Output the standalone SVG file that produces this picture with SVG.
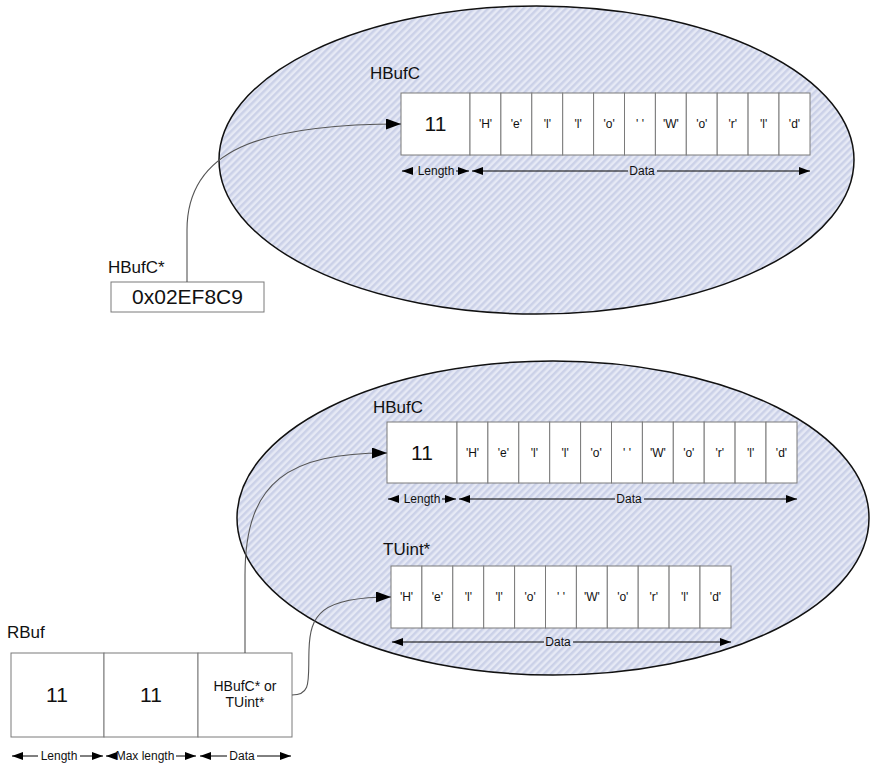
<svg xmlns="http://www.w3.org/2000/svg" width="871" height="766" viewBox="0 0 871 766">
<defs>
<pattern id="hatch" width="5" height="5" patternUnits="userSpaceOnUse" patternTransform="rotate(45)">
<rect width="5" height="5" fill="#e6e9f5"/>
<rect width="2.5" height="5" fill="#cbd1e8"/>
</pattern>
<marker id="ptr" viewBox="0 0 15 11" refX="15" refY="5.5" markerWidth="15" markerHeight="11" orient="auto" markerUnits="userSpaceOnUse">
<path d="M0,0 L15,5.5 L0,11 z" fill="#000"/>
</marker>
<marker id="dim" viewBox="0 0 11 8" refX="11" refY="4" markerWidth="11" markerHeight="8" orient="auto-start-reverse" markerUnits="userSpaceOnUse">
<path d="M0,0 L11,4 L0,8 z" fill="#000"/>
</marker>
</defs>
<style>
text{font-family:"Liberation Sans",Arial,sans-serif;fill:#111}
.ell{fill:url(#hatch);stroke:#111;stroke-width:1.5}
.cell{fill:#fff;stroke:#7a7a7a;stroke-width:1}
.ch{font-size:12px;text-anchor:middle}
.big{font-size:21px;text-anchor:middle}
.lbl{font-size:17px}
.dimt{font-size:12px;text-anchor:middle}
.dl{stroke:#000;stroke-width:1;fill:none}
.conn{stroke:#555;stroke-width:1.1;fill:none;marker-end:url(#ptr)}
</style>
<rect width="871" height="766" fill="#fff"/>

<g id="heap1">
<ellipse class="ell" cx="536.5" cy="160" rx="317.5" ry="154"/>
<text class="lbl" x="370" y="79">HBufC</text>
</g>
<g id="hbufc1">
<rect class="cell" x="401" y="93" width="69" height="62"/>
<text class="big" x="435.5" y="131">11</text>
<rect class="cell" x="470" y="93" width="30.9" height="62"/>
<rect class="cell" x="500.9" y="93" width="30.9" height="62"/>
<rect class="cell" x="531.8" y="93" width="30.9" height="62"/>
<rect class="cell" x="562.7" y="93" width="30.9" height="62"/>
<rect class="cell" x="593.6" y="93" width="30.9" height="62"/>
<rect class="cell" x="624.5" y="93" width="30.9" height="62"/>
<rect class="cell" x="655.4" y="93" width="30.9" height="62"/>
<rect class="cell" x="686.3" y="93" width="30.9" height="62"/>
<rect class="cell" x="717.2" y="93" width="30.9" height="62"/>
<rect class="cell" x="748.1" y="93" width="30.9" height="62"/>
<rect class="cell" x="779" y="93" width="31" height="62"/>
<text class="ch" x="485.5" y="128">'H'</text>
<text class="ch" x="516.4" y="128">'e'</text>
<text class="ch" x="547.3" y="128">'l'</text>
<text class="ch" x="578.2" y="128">'l'</text>
<text class="ch" x="609.1" y="128">'o'</text>
<text class="ch" x="640" y="128">' '</text>
<text class="ch" x="670.9" y="128">'W'</text>
<text class="ch" x="701.8" y="128">'o'</text>
<text class="ch" x="732.7" y="128">'r'</text>
<text class="ch" x="763.6" y="128">'l'</text>
<text class="ch" x="794.5" y="128">'d'</text>
<path class="dl" d="M413,171 L402,171" marker-end="url(#dim)"/>
<text class="dimt" x="436" y="175">Length</text>
<path class="dl" d="M456,171 L469,171" marker-end="url(#dim)"/>
<path class="dl" d="M628,171 L472,171" marker-end="url(#dim)"/>
<text class="dimt" x="642" y="175">Data</text>
<path class="dl" d="M657,171 L810,171" marker-end="url(#dim)"/>
</g>

<g id="ptrbox">
<text class="lbl" x="108" y="273">HBufC*</text>
<rect class="cell" x="111" y="282" width="153" height="30"/>
<text class="big" x="187.5" y="304">0x02EF8C9</text>
</g>

<g id="heap2">
<ellipse class="ell" cx="553" cy="518" rx="316" ry="157"/>
<text class="lbl" x="373" y="413">HBufC</text>
<text class="lbl" x="383" y="555">TUint*</text>
</g>
<g id="hbufc2">
<rect class="cell" x="387" y="422" width="70" height="61"/>
<text class="big" x="422" y="460">11</text>
<rect class="cell" x="457" y="422" width="30.9" height="61"/>
<rect class="cell" x="487.9" y="422" width="30.9" height="61"/>
<rect class="cell" x="518.8" y="422" width="30.9" height="61"/>
<rect class="cell" x="549.7" y="422" width="30.9" height="61"/>
<rect class="cell" x="580.6" y="422" width="30.9" height="61"/>
<rect class="cell" x="611.5" y="422" width="30.9" height="61"/>
<rect class="cell" x="642.4" y="422" width="30.9" height="61"/>
<rect class="cell" x="673.3" y="422" width="30.9" height="61"/>
<rect class="cell" x="704.2" y="422" width="30.9" height="61"/>
<rect class="cell" x="735.1" y="422" width="30.9" height="61"/>
<rect class="cell" x="766" y="422" width="31" height="61"/>
<text class="ch" x="472.5" y="457">'H'</text>
<text class="ch" x="503.4" y="457">'e'</text>
<text class="ch" x="534.3" y="457">'l'</text>
<text class="ch" x="565.2" y="457">'l'</text>
<text class="ch" x="596.1" y="457">'o'</text>
<text class="ch" x="627" y="457">' '</text>
<text class="ch" x="657.9" y="457">'W'</text>
<text class="ch" x="688.8" y="457">'o'</text>
<text class="ch" x="719.7" y="457">'r'</text>
<text class="ch" x="750.6" y="457">'l'</text>
<text class="ch" x="781.5" y="457">'d'</text>
<path class="dl" d="M399,499 L388,499" marker-end="url(#dim)"/>
<text class="dimt" x="422" y="503">Length</text>
<path class="dl" d="M442,499 L456,499" marker-end="url(#dim)"/>
<path class="dl" d="M615,499 L459,499" marker-end="url(#dim)"/>
<text class="dimt" x="629" y="503">Data</text>
<path class="dl" d="M644,499 L797,499" marker-end="url(#dim)"/>
</g>

<g id="tuint">
<rect class="cell" x="391" y="566" width="30.9" height="62"/>
<rect class="cell" x="421.9" y="566" width="30.9" height="62"/>
<rect class="cell" x="452.8" y="566" width="30.9" height="62"/>
<rect class="cell" x="483.7" y="566" width="30.9" height="62"/>
<rect class="cell" x="514.6" y="566" width="30.9" height="62"/>
<rect class="cell" x="545.5" y="566" width="30.9" height="62"/>
<rect class="cell" x="576.4" y="566" width="30.9" height="62"/>
<rect class="cell" x="607.3" y="566" width="30.9" height="62"/>
<rect class="cell" x="638.2" y="566" width="30.9" height="62"/>
<rect class="cell" x="669.1" y="566" width="30.9" height="62"/>
<rect class="cell" x="700" y="566" width="31" height="62"/>
<text class="ch" x="406.5" y="601">'H'</text>
<text class="ch" x="437.4" y="601">'e'</text>
<text class="ch" x="468.3" y="601">'l'</text>
<text class="ch" x="499.2" y="601">'l'</text>
<text class="ch" x="530.1" y="601">'o'</text>
<text class="ch" x="561" y="601">' '</text>
<text class="ch" x="591.9" y="601">'W'</text>
<text class="ch" x="622.8" y="601">'o'</text>
<text class="ch" x="653.7" y="601">'r'</text>
<text class="ch" x="684.6" y="601">'l'</text>
<text class="ch" x="715.5" y="601">'d'</text>
<path class="dl" d="M544,642 L392,642" marker-end="url(#dim)"/>
<text class="dimt" x="558" y="646">Data</text>
<path class="dl" d="M573,642 L731,642" marker-end="url(#dim)"/>
</g>

<g id="rbuf">
<text class="lbl" x="7" y="638">RBuf</text>
<rect class="cell" x="11" y="653" width="93" height="84"/>
<rect class="cell" x="104" y="653" width="94" height="84"/>
<rect class="cell" x="198" y="653" width="94" height="84"/>
<text class="big" x="57" y="702">11</text>
<text class="big" x="151" y="702">11</text>
<text x="245" y="691" style="font-size:14px;text-anchor:middle">HBufC* or</text>
<text x="245" y="707" style="font-size:14px;text-anchor:middle">TUint*</text>
<path class="dl" d="M38,756 L12,756" marker-end="url(#dim)"/>
<text class="dimt" x="59" y="760">Length</text>
<path class="dl" d="M80,756 L103,756" marker-end="url(#dim)"/>
<path class="dl" d="M115,756 L106,756" marker-end="url(#dim)"/>
<text class="dimt" x="145" y="760">Max length</text>
<path class="dl" d="M176,756 L196,756" marker-end="url(#dim)"/>
<path class="dl" d="M227,756 L200,756" marker-end="url(#dim)"/>
<text class="dimt" x="242" y="760">Data</text>
<path class="dl" d="M257,756 L291,756" marker-end="url(#dim)"/>
</g>

<g id="connectors">
<path class="conn" d="M187,282 L187,230 C187,150 260,124 401,124"/>
<path class="conn" d="M245,653 L245,575 C245,480 290,453 387,453"/>
<path class="conn" d="M292,695 C312,695 308,680 309,650 C310,615 320,597 391,597"/>
</g>
</svg>
